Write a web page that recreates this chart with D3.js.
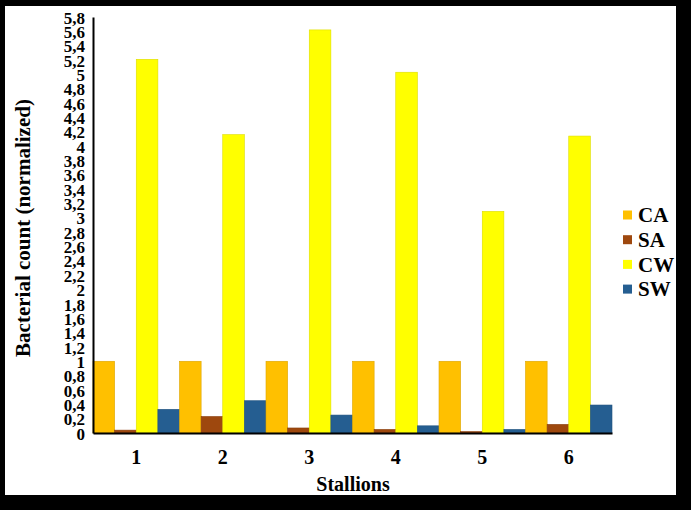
<!DOCTYPE html>
<meta charset="utf-8">
<style>
body { margin: 0; background: #000; }
svg { display: block; }
.axis text { font: bold 17px "Liberation Serif", "Times New Roman", serif; fill: #000; }
.lbl { font: bold 20px "Liberation Serif", "Times New Roman", serif; fill: #000; }
</style>
<svg width="691" height="510" id="chart"></svg>
<script src="https://d3js.org/d3.v7.min.js"></script>
<script>
// data
var stallions = ["1", "2", "3", "4", "5", "6"];
var series = ["CA", "SA", "CW", "SW"];
var colors = ["#FFC000", "#9E480E", "#FFFF00", "#255E91"];
var CA = [1, 1, 1, 1, 1, 1];
var SA = [0.04, 0.23, 0.07, 0.05, 0.02, 0.12];
var CW = [5.21, 4.16, 5.62, 5.03, 3.09, 4.14];
var SW = [0.33, 0.45, 0.25, 0.10, 0.05, 0.39];
var yTicks = d3.range(0, 30).map(function(i) { return +(i * 0.2).toFixed(1); });

var values = { CA: CA, SA: SA, CW: CW, SW: SW };

var svg = d3.select("#chart");

// white panel inside black frame
svg.append("rect")
    .attr("x", 5).attr("y", 6)
    .attr("width", 671).attr("height", 489)
    .attr("fill", "#fff");

var x0 = d3.scaleBand().domain(stallions).range([93, 612]).padding(0);
var x1 = d3.scaleBand().domain(series).range([0, x0.bandwidth()]).padding(0);
var y = d3.scaleLinear().domain([0, 5.8]).range([433, 17]);
var color = d3.scaleOrdinal().domain(series).range(colors);

var groups = svg.append("g")
  .selectAll("g")
  .data(stallions)
  .enter().append("g")
    .attr("transform", function(d) { return "translate(" + x0(d) + ",0)"; });

groups.selectAll("rect")
  .data(function(d, i) { return series.map(function(s) { return { key: s, value: values[s][i] }; }); })
  .enter().append("rect")
    .attr("x", function(d) { return x1(d.key); })
    .attr("width", x1.bandwidth())
    .attr("y", function(d) { return y(d.value); })
    .attr("height", function(d) { return y(0) - y(d.value); })
    .attr("fill", function(d) { return color(d.key); })
    .attr("stroke", function(d) { return d3.color(color(d.key)).darker(0.4); })
    .attr("stroke-width", 0.6);

// y axis
var fmt = function(d) { return String(d).replace(".", ","); };
svg.append("g")
    .attr("class", "axis")
    .attr("transform", "translate(93,0)")
    .call(d3.axisLeft(y).tickValues(yTicks).tickFormat(fmt).tickSize(0).tickPadding(8))
    .call(function(g) { g.select(".domain").attr("stroke", "#000").attr("stroke-width", 2); })
    .call(function(g) { g.selectAll(".tick text").attr("dy", "0.36em"); });

// x axis
svg.append("g")
    .attr("class", "axis")
    .attr("transform", "translate(0,433)")
    .call(d3.axisBottom(x0).tickSize(0).tickSizeOuter(0).tickPadding(17))
    .call(function(g) { g.select(".domain").attr("stroke", "#000").attr("stroke-width", 2); })
    .call(function(g) { g.selectAll(".tick text").style("font-size", "20px"); });

svg.append("text")
    .attr("class", "lbl")
    .attr("x", 353).attr("y", 491)
    .attr("text-anchor", "middle")
    .text("Stallions");

svg.append("text")
    .attr("class", "lbl")
    .attr("transform", "translate(30,228) rotate(-90)")
    .attr("text-anchor", "middle")
    .style("font-size", "21px")
    .text("Bacterial count (normalized)");

// legend
var legend = svg.append("g")
  .selectAll("g")
  .data(series)
  .enter().append("g")
    .attr("transform", function(d, i) { return "translate(623," + (215 + i * 24.7) + ")"; });

legend.append("rect")
    .attr("x", 0).attr("y", -4.5)
    .attr("width", 9).attr("height", 9)
    .attr("fill", function(d) { return color(d); });

legend.append("text")
    .attr("class", "lbl")
    .attr("x", 15).attr("dy", "0.35em")
    .style("font-size", "21px")
    .text(function(d) { return d; });
</script>
